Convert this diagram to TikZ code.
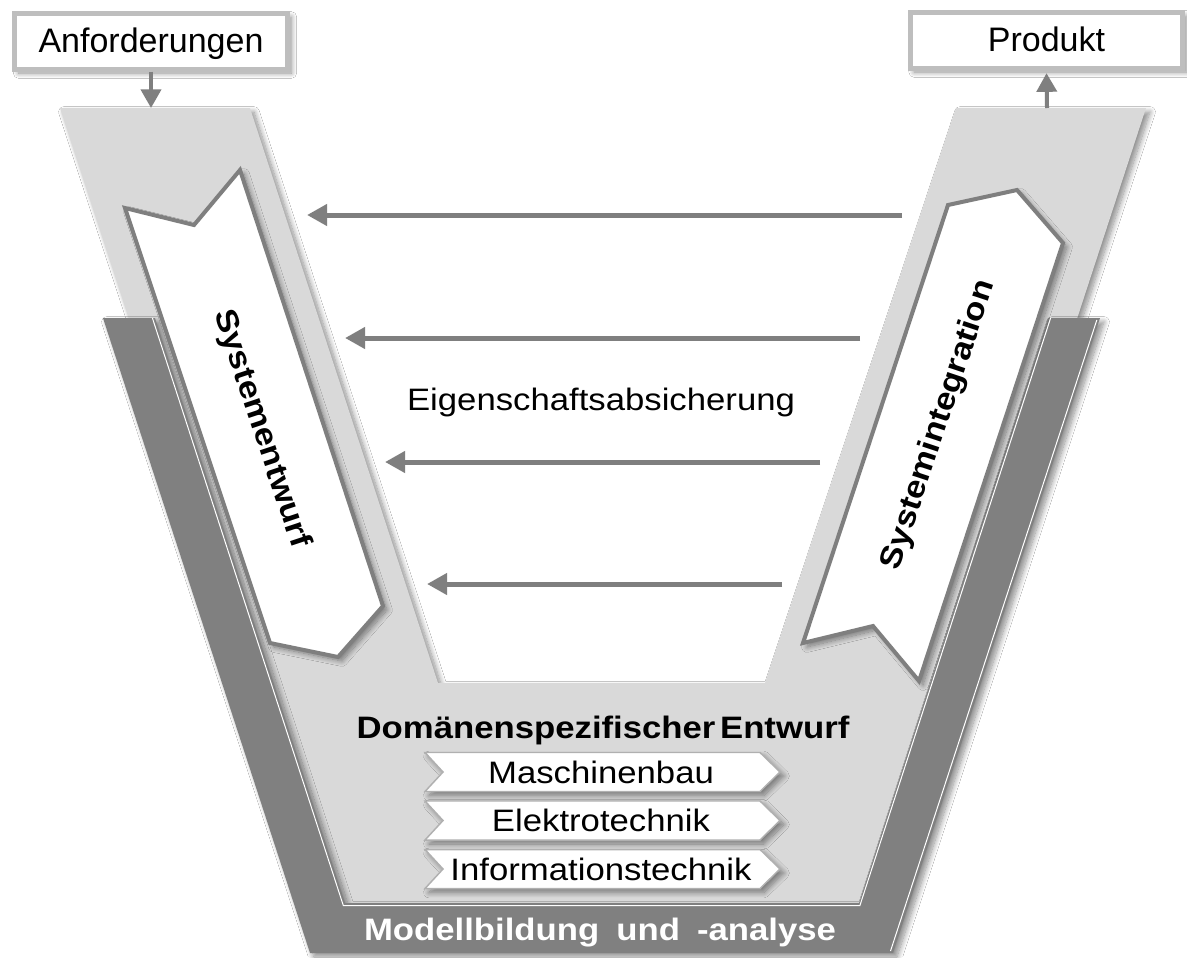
\documentclass[tikz,border=0pt]{standalone}
\usepackage{fontspec}
\setmainfont{Liberation Sans}
\newfontfamily\widefont[FakeStretch=1.12]{Liberation Sans}
\usetikzlibrary{arrows.meta,shadows.blur}

\definecolor{vfill}{HTML}{D9D9D9}
\definecolor{bandgray}{HTML}{808080}
\definecolor{arrgray}{HTML}{7F7F7F}
\definecolor{boxline}{HTML}{BEBEBE}
\definecolor{chevline}{HTML}{B0B0B0}

\begin{document}
\begin{tikzpicture}[x=0.75pt,y=-0.75pt,
  softshadow/.style={blur shadow={shadow xshift=3pt,shadow yshift=-3pt,
      shadow blur radius=4pt,shadow blur steps=12,shadow opacity=45}},
  labelbox/.style={draw=boxline,line width=3.75pt,fill=white,inner sep=0pt,
      minimum width=204.5pt,minimum height=42pt,text height=22pt,text depth=5pt,
      font=\fontsize{25.5}{30}\selectfont,softshadow},
  bigarrow/.style={fill=white,draw=arrgray,line width=3pt,line join=miter,softshadow},
  chevron/.style={fill=white,draw=chevline,line width=1.1pt,line join=miter,softshadow},
  flowarrow/.style={draw=arrgray,line width=3.75pt,-{Triangle[length=15pt,width=15.5pt]}},
  ioarrow/.style={draw=arrgray,line width=3pt,-{Triangle[length=14pt,width=15pt]}},
  inner/.style={font=\widefont\fontsize{23.25}{28}\selectfont,inner sep=0pt,anchor=base},
  innerbold/.style={font=\widefont\bfseries\fontsize{23.25}{28}\selectfont,inner sep=0pt},
]
\useasboundingbox (0,0) rectangle (1187,957);
\fill[white] (0,0) rectangle (1187,957);

% light grey V
\fill[vfill,softshadow] (60,108) -- (250,108) -- (438,683) -- (765,683) -- (956,108)
  -- (1146,108) -- (877,930) -- (329,930) -- cycle;

% dark band: Modellbildung und -analyse
\fill[bandgray,softshadow] (103,318) -- (155,318) -- (345,903) -- (859,903) -- (1048,318)
  -- (1100,318) -- (893,953) -- (310,953) -- cycle;
\draw[white,line width=0.75pt] (152.4,318) -- (343.3,905.5) -- (859.9,905.5) -- (1050.6,318);
\draw[white,line width=0.75pt] (1096.8,320) -- (890.5,951);

% Systementwurf (down) and Systemintegration (up)
\filldraw[bigarrow] (125,208) -- (194,225) -- (240,170) -- (383,606) -- (338,657)
  -- (270,643) -- cycle;
\filldraw[bigarrow] (803,643) -- (873,626) -- (919,681) -- (1063,243) -- (1017,190)
  -- (948,205) -- cycle;
\node[innerbold,rotate=-71.6] (sysE) at (261,429) {Systementwurf};
\node[innerbold,rotate=71.6] (sysI) at (939,425) {Systemintegration};

% domain chevrons
\foreach \t in {752.5,801,849.5}{
  \filldraw[chevron] (425,\t) -- (760,\t) -- (780,\t+19.5) -- (760,\t+39)
    -- (425,\t+39) -- (443,\t+19.5) -- cycle;
}
\node[innerbold,anchor=base] (dom) at (603,738) {Domänenspezifischer\hspace{0.15em}Entwurf};
\node[inner] (mb) at (601,783) {Maschinenbau};
\node[inner] (et) at (601,831.5) {Elektrotechnik};
\node[inner] (it) at (601,880) {Informationstechnik};
\node[innerbold,anchor=base,text=white] (mod) at (600,940)
  {Modellbildung\hspace{0.55em}und\hspace{0.55em}-analyse};

% Eigenschaftsabsicherung
\coordinate (a1s) at (902,215); \coordinate (a1e) at (307,215);
\coordinate (a2s) at (860,338); \coordinate (a2e) at (345,338);
\coordinate (a3s) at (820,462); \coordinate (a3e) at (385,462);
\coordinate (a4s) at (782,584); \coordinate (a4e) at (427,584);
\draw[flowarrow] (a1s) -- (a1e);
\draw[flowarrow] (a2s) -- (a2e);
\draw[flowarrow] (a3s) -- (a3e);
\draw[flowarrow] (a4s) -- (a4e);
\node[inner] (eig) at (601,410) {Eigenschaftsabsicherung};

% input and output
\node[labelbox] (anf) at (151,41) {Anforderungen};
\node[labelbox] (prod) at (1046.5,40) {Produkt};
\coordinate (vinL) at (151,108);
\coordinate (voutR) at (1047,108);
\draw[ioarrow] (anf.south) -- (vinL);
\draw[ioarrow] (voutR) -- ([yshift=-2pt]prod.south);
\end{tikzpicture}
\end{document}
